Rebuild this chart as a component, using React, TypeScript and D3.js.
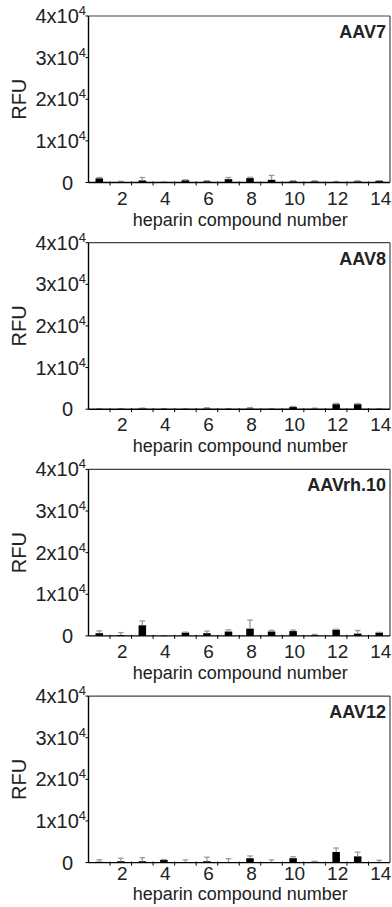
import React from 'react';
import * as d3 from 'd3';

const compounds = [1, 2, 3, 4, 5, 6, 7, 8, 9, 10, 11, 12, 13, 14];
const labeledCompounds = [2, 4, 6, 8, 10, 12, 14];
const yTicks = [0, 10000, 20000, 30000, 40000];

const aav7Mean = [1000, 100, 500, 50, 550, 300, 800, 1050, 650, 300, 300, 100, 300, 400];
const aav7Err = [200, 200, 700, 50, 100, 150, 400, 200, 1050, 150, 100, 150, 100, 50];

const aav8Mean = [50, 50, 200, 50, 30, 150, 50, 150, 50, 550, 100, 1200, 1200, 30];
const aav8Err = [50, 80, 50, 80, 50, 200, 80, 250, 50, 100, 150, 200, 150, 50];

const aavrh10Mean = [650, 200, 2550, 0, 800, 650, 1050, 1750, 1050, 1150, 200, 1500, 550, 800];
const aavrh10Err = [550, 600, 1050, 50, 100, 500, 400, 2050, 300, 250, 150, 100, 750, 50];

const aav12Mean = [200, 320, 320, 640, 50, 320, 100, 1050, 0, 1050, 200, 2550, 1500, 150];
const aav12Err = [500, 730, 880, 100, 600, 980, 850, 550, 650, 350, 100, 950, 1000, 400];

const panelNames = ['AAV7', 'AAV8', 'AAVrh.10', 'AAV12'];
const panelMeans = [aav7Mean, aav8Mean, aavrh10Mean, aav12Mean];
const panelErrs = [aav7Err, aav8Err, aavrh10Err, aav12Err];

const W = 392;
const H = 907;
const FONT = '"Liberation Sans", Arial, Helvetica, sans-serif';

const margin = { left: 88.5, right: 2, top: 16 };
const panelStep = 226.7;
const plotH = 166.5;
// the last panel sits tighter to the page bottom
const tickLabelOffset = [22, 22, 22, 17];
const axisTitleOffset = [43, 43, 43, 37.6];

const Panel: React.FC<{ index: number }> = ({ index }) => {
  const top = margin.top + index * panelStep;
  const right = W - margin.right;
  const x = d3.scaleBand<number>().domain(compounds).range([margin.left, right]).padding(0);
  const y = d3.scaleLinear().domain([0, 40000]).range([top + plotH, top]);
  const means = panelMeans[index];
  const errs = panelErrs[index];
  const barW = x.bandwidth() * 0.35;
  const zero = y(0);

  return (
    <g>
      {/* bars */}
      {compounds.map((c, i) => {
        const cx = (x(c) || 0) + x.bandwidth() / 2;
        return (
          <rect
            key={`b${c}`}
            x={cx - barW / 2}
            y={y(means[i])}
            width={barW}
            height={zero - y(means[i])}
            fill="#000"
          />
        );
      })}
      {/* error bars */}
      {compounds.map((c, i) => {
        const cx = (x(c) || 0) + x.bandwidth() / 2;
        const yTop = y(means[i] + errs[i]);
        return (
          <g key={`e${c}`} stroke="#9a9a9a" strokeWidth={1.3}>
            <line x1={cx} x2={cx} y1={y(means[i])} y2={yTop} />
            <line x1={cx - 2.8} x2={cx + 2.8} y1={yTop} y2={yTop} />
          </g>
        );
      })}

      {/* frame */}
      <line x1={margin.left} x2={right} y1={top} y2={top} stroke="#444" strokeWidth={1.2} />
      <line x1={right} x2={right} y1={top} y2={zero} stroke="#444" strokeWidth={1.2} />
      <line x1={margin.left} x2={margin.left} y1={top} y2={zero} stroke="#000" strokeWidth={1.4} />
      <line x1={margin.left} x2={right} y1={zero} y2={zero} stroke="#000" strokeWidth={1.4} />

      {/* x ticks at band edges */}
      {compounds.slice(1).map(c => (
        <line
          key={`xt${c}`}
          x1={x(c)}
          x2={x(c)}
          y1={zero - 1}
          y2={zero + 3}
          stroke="#000"
          strokeWidth={1}
        />
      ))}
      {labeledCompounds.map(c => (
        <text
          key={`xl${c}`}
          x={(x(c) || 0) + x.bandwidth() / 2 + 1.5}
          y={zero + tickLabelOffset[index]}
          textAnchor="middle"
          fontSize={19}
          fontFamily={FONT}
          fill="#222"
        >
          {c}
        </text>
      ))}
      <text
        x={(margin.left + right) / 2 + 1}
        y={zero + axisTitleOffset[index]}
        textAnchor="middle"
        fontSize={18}
        fontFamily={FONT}
        fill="#222"
      >
        heparin compound number
      </text>

      {/* y ticks */}
      {yTicks.map(t => (
        <g key={`yt${t}`}>
          <line x1={margin.left - 3} x2={margin.left} y1={y(t)} y2={y(t)} stroke="#000" strokeWidth={1} />
          {t === 0 ? (
            <text x={73} y={y(t) + 7} textAnchor="end" fontSize={20} fontFamily={FONT} fill="#222">
              0
            </text>
          ) : (
            <text x={86} y={y(t) + 7} textAnchor="end" fontSize={20} fontFamily={FONT} fill="#222">
              {`${t / 10000}x10`}
              <tspan fontSize={13} dy={-8}>
                4
              </tspan>
            </text>
          )}
        </g>
      ))}
      <text
        transform={`translate(26, ${top + plotH / 2}) rotate(-90)`}
        textAnchor="middle"
        fontSize={20}
        fontFamily={FONT}
        fill="#222"
      >
        RFU
      </text>

      {/* panel title */}
      <text
        x={right - 4}
        y={top + 22}
        textAnchor="end"
        fontSize={18}
        fontWeight="bold"
        fontFamily={FONT}
        fill="#222"
      >
        {panelNames[index]}
      </text>
    </g>
  );
};

const App: React.FC = () => {
  return (
    <div style={{ position: 'absolute', left: 0, top: 0, width: W, height: H, background: '#fff' }}>
      <svg width={W} height={H} viewBox={`0 0 ${W} ${H}`} style={{ display: 'block' }}>
        <rect width={W} height={H} fill="#fff" />
        {panelNames.map((_, i) => (
          <Panel key={i} index={i} />
        ))}
      </svg>
    </div>
  );
};

export default App;
